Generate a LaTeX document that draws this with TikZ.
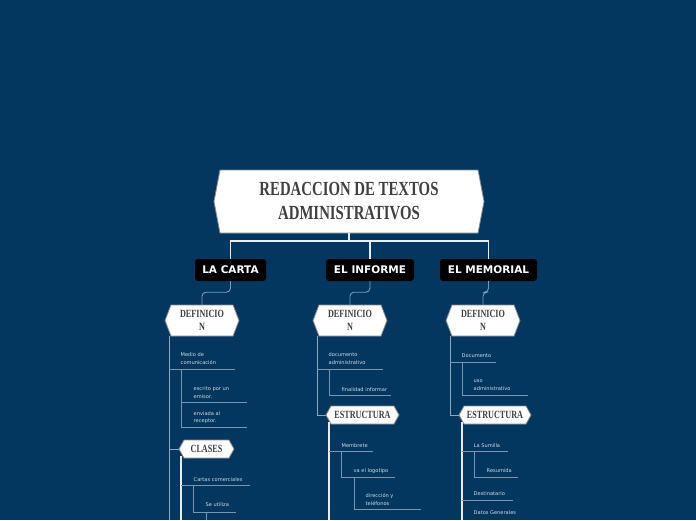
\documentclass[tikz,border=0pt]{standalone}
\usepackage{fontspec}
\newfontfamily\hexfont[FakeStretch=0.74]{Liberation Serif}
\newfontfamily\dejavu{DejaVu Sans}
\definecolor{bg}{HTML}{03375F}
\definecolor{hexText}{HTML}{404040}
\definecolor{hexBorder}{HTML}{8A8A8A}
\definecolor{leafText}{HTML}{D0DAE4}
\definecolor{subC}{HTML}{7B95AE}
\definecolor{mainC}{HTML}{90A6BB}
\definecolor{whiteC}{HTML}{E6ECF1}
\definecolor{elbowC}{HTML}{7F9AB5}
\tikzset{
  hexin/.style={inner sep=0pt, align=center, text=hexText, font=\hexfont\bfseries\fontsize{11}{13}\selectfont},
  hexframe/.style={draw=hexBorder, fill=white, line width=0.8pt},
  header/.style={fill=black, rounded corners=3pt, text=white, inner sep=0pt,
    minimum height=22pt, font=\dejavu\bfseries\fontsize{10.5}{12}\selectfont},
  leaf/.style={anchor=north west, inner sep=0pt, align=left, text=leafText,
    font=\dejavu\fontsize{5.1}{7.5}\selectfont},
  subline/.style={draw=subC, line width=0.8pt},
  mainline/.style={draw=mainC, line width=1pt},
  whiteline/.style={draw=whiteC, line width=1.2pt},
  titleline/.style={draw=whiteC, line width=1.3pt},
  elbow/.style={draw=elbowC, line width=0.9pt, rounded corners=4pt},
}
% name, cx, cy, full width, height, tip, text
\newcommand\hexnode[7]{%
  \path[hexframe] (#2-#4/2,#3) -- (#2-#4/2+#6,#3-#5/2) -- (#2+#4/2-#6,#3-#5/2)
     -- (#2+#4/2,#3) -- (#2+#4/2-#6,#3+#5/2) -- (#2-#4/2+#6,#3+#5/2) -- cycle;
  \node[hexin, minimum width=#4-2*#6, minimum height=#5] (#1) at (#2,#3) {#7};
}
\begin{document}
\begin{tikzpicture}[x=1pt,y=-1pt]
\useasboundingbox (0,0) rectangle (696,520);
\fill[bg] (0,0) rectangle (696,520);

% title
\path[hexframe] (214,201.5) -- (220,170) -- (478,170) -- (484,201.5) -- (478,233) -- (220,233) -- cycle;
\node[hexin, minimum width=258pt, minimum height=63pt,
  font=\hexfont\bfseries\fontsize{20}{24}\selectfont] (t) at (349,201.5) {REDACCION DE TEXTOS\\ADMINISTRATIVOS};

% headers
\node[header, minimum width=71pt] (h1) at (230.5,270) {LA CARTA};
\node[header, minimum width=88pt] (h2) at (370,270) {EL INFORME};
\node[header, minimum width=97pt] (h3) at (488.5,270) {EL MEMORIAL};

\draw[titleline] (t.south) -- (349,241) coordinate (tj);
\draw[titleline] (tj) -| (h1.north);
\draw[titleline] (tj) -| (h2.north);
\draw[titleline] (tj) -| (h3.north);

% definicion nodes
\hexnode{d1}{202}{320.5}{74}{31}{6}{DEFINICIO\\N}
\hexnode{d2}{350}{320.5}{74}{31}{6}{DEFINICIO\\N}
\hexnode{d3}{483}{320.5}{74}{31}{6}{DEFINICIO\\N}

\draw[elbow] (h1.south) -- ++(0,11) -| (d1.north);
\draw[elbow] (h2.south) -- ++(0,11) -| (d2.north);
\draw[elbow] (h3.south) -- ++(0,11) -| (d3.north);

% ---------- LA CARTA ----------
\draw[mainline] (169,336) -- (169,520);
\node[leaf] (c1) at (180.5,352.5) {Medio de\\comunicación};
\draw[subline] (169,369) -- (235,369);
\draw[subline] (181,369) -- (181,427);
\node[leaf] (c2) at (193.5,386.5) {escrito por un\\emisor.};
\draw[subline] (181,402) -- (247,402);
\node[leaf] (c3) at (193.5,411) {enviada al\\receptor.};
\draw[subline] (181,427) -- (247,427);

\hexnode{cl}{206.5}{449}{55}{18}{5}{CLASES}
\draw[mainline] (169,449) -- (179,449);
\draw[whiteline] (181,456) -- (181,520);
\node[leaf] (c4) at (193.5,477) {Cartas comerciales};
\draw[subline] (181,485) -- (250,485);
\draw[subline] (193,485) -- (193,512);
\node[leaf] (c5) at (205.5,502) {Se utiliza};
\draw[subline] (193,512) -- (236,512);
\draw[subline] (206,512) -- (206,520);

% ---------- EL INFORME ----------
\draw[mainline] (317,336) -- (317,415) -- (326,415);
\node[leaf] (i1) at (328.5,352.5) {documento\\administrativo};
\draw[subline] (317,369) -- (383,369);
\draw[subline] (329,369) -- (329,395);
\node[leaf] (i2) at (341.5,387) {finalidad informar};
\draw[subline] (329,395) -- (391,395);

\hexnode{e2}{362.5}{415}{73}{18}{5}{ESTRUCTURA}
\draw[whiteline] (329,422) -- (329,520);
\node[leaf] (i3) at (341.5,443) {Membrete};
\draw[subline] (329,451) -- (373,451);
\draw[subline] (341,451) -- (341,477);
\node[leaf] (i4) at (353.5,468) {va el logotipo};
\draw[subline] (341,477) -- (395,477);
\draw[subline] (354,477) -- (354,509);
\node[leaf] (i5) at (365.5,493.5) {dirección y\\teléfonos};
\draw[subline] (354,509) -- (421,509);

% ---------- EL MEMORIAL ----------
\draw[mainline] (450,336) -- (450,415) -- (459,415);
\node[leaf] (m1) at (461.5,354) {Documento};
\draw[subline] (450,362) -- (496,362);
\draw[subline] (462,362) -- (462,395);
\node[leaf] (m2) at (473.5,379.5) {uso\\administrativo};
\draw[subline] (462,395) -- (528,395);

\hexnode{e3}{495}{415}{72}{18}{5}{ESTRUCTURA}
\draw[whiteline] (462,422) -- (462,520);
\node[leaf] (m3) at (473.5,443) {La Sumilla};
\draw[subline] (462,451) -- (508,451);
\draw[subline] (474,451) -- (474,477);
\node[leaf] (m4) at (486.5,468) {Resumida};
\draw[subline] (474,477) -- (518,477);
\node[leaf] (m5) at (473.5,491) {Destinatario};
\draw[subline] (462,500) -- (513,500);
\node[leaf] (m6) at (473.5,510) {Datos Generales};
\end{tikzpicture}
\end{document}
